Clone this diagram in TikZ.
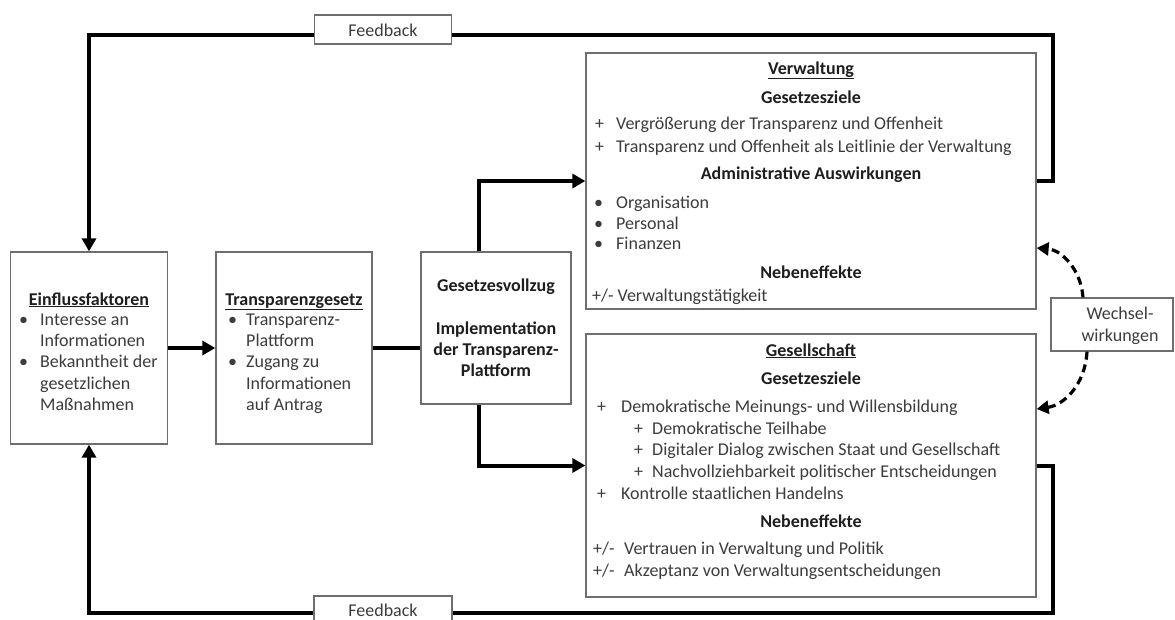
\documentclass[tikz,border=0pt]{standalone}
\usepackage{fontspec}
\setmainfont{Carlito}
\usetikzlibrary{arrows.meta}
\definecolor{boxgray}{HTML}{6E6E6E}
\definecolor{txtgray}{HTML}{3C3C3C}
\definecolor{headblk}{HTML}{1E1E1E}
\newcommand{\ulin}[1]{\underline{#1}}
\begin{document}
\begin{tikzpicture}[x=1pt,y=-1pt,
  box/.style={draw=boxgray, line width=1.3pt, fill=white, inner sep=0pt, rectangle},
  conn/.style={line width=4pt, black},
  arr/.style={conn, -{Triangle[length=13pt,width=14pt]}},
  dasharr/.style={line width=3.2pt, black, dash pattern=on 8pt off 5pt, -{Triangle[length=12pt,width=13pt]}},
  tl/.style={anchor=base west, inner sep=0pt, text=txtgray, font=\fontsize{18}{21}\selectfont},
  tc/.style={anchor=base, inner sep=0pt, text=txtgray, font=\fontsize{18}{21}\selectfont},
  hb/.style={anchor=base, inner sep=0pt, text=headblk, font=\fontsize{18}{21}\selectfont\bfseries},
]
\useasboundingbox (0,0) rectangle (1175,619);

% ---- boxes ----
\node[box, minimum width=156.5pt, minimum height=192pt] (einf) at (89,348) {};
\node[box, minimum width=156pt, minimum height=192pt] (trans) at (294,348) {};
\node[box, minimum width=150pt, minimum height=152pt] (vollz) at (496,328) {};
\node[box, minimum width=450pt, minimum height=256pt] (verw) at (811,181) {};
\node[box, minimum width=450pt, minimum height=263pt] (gesell) at (811,465.5) {};

% ---- helper coordinates ----
\coordinate (tr) at (1053,35);
\coordinate (br) at (1053,613);
\coordinate (vx) at (479,0);
\coordinate (w1) at (0,248);
\coordinate (w2) at (0,409);
\coordinate (d1) at (1083,0);
\coordinate (d2) at (1087,0);

% ---- connectors ----
\draw[arr] (verw.east) -| (tr) -| (einf.north);
\draw[arr] (gesell.east) -| (br) -| (einf.south);
\draw[arr] (einf.east) -- (trans.west);
\draw[conn] (trans.east) -- (trans.east -| vollz.west);
\draw[arr] (vollz.north -| vx) |- (verw.west);
\draw[arr] (vollz.south -| vx) |- (gesell.west);

% ---- label boxes ----
\node[box, minimum width=137pt, minimum height=29pt] (fbtop) at (383,29.5) {};
\node[box, minimum width=138pt, minimum height=29pt] (fbbot) at (383,610.5) {};
\node[box, minimum width=122pt, minimum height=53pt] (wech) at (1112,324.5) {};

\draw[dasharr] (wech.north -| d1) .. controls (1081,270) and (1062,250) .. (verw.east |- w1);
\draw[dasharr] (wech.south -| d2) .. controls (1085,385) and (1064,405) .. (gesell.east |- w2);

\node[tc] (fbtoptxt) at (383,36) {Feedback};
\node[tc] (fbbottxt) at (383,616) {Feedback};
\node[tc] (wech1) at (1120,319) {Wechsel-};
\node[tc] (wech2) at (1120,341) {wirkungen};

% ---- Einflussfaktoren ----
\node[hb] (e0) at (89,305) {\ulin{Einflussfaktoren}};
\node[tl] (eb1) at (19,325) {•};
\node[tl] (e1) at (40,325) {Interesse an};
\node[tl] (e2) at (40,346) {Informationen};
\node[tl] (eb2) at (19,367) {•};
\node[tl] (e3) at (40,367) {Bekanntheit der};
\node[tl] (e4) at (40,389) {gesetzlichen};
\node[tl] (e5) at (40,410) {Maßnahmen};

% ---- Transparenzgesetz ----
\node[hb] (t0) at (294,305) {\ulin{Transparenzgesetz}};
\node[tl] (tb1) at (228,325) {•};
\node[tl] (t1) at (246,325) {Transparenz-};
\node[tl] (t2) at (246,346) {Plattform};
\node[tl] (tb2) at (228,367) {•};
\node[tl] (t3) at (246,367) {Zugang zu};
\node[tl] (t4) at (246,389) {Informationen};
\node[tl] (t5) at (246,410) {auf Antrag};

% ---- Gesetzesvollzug ----
\node[hb] (g0) at (496,291) {Gesetzesvollzug};
\node[hb] (g1) at (496,334) {Implementation};
\node[hb] (g2) at (496,355) {der Transparenz-};
\node[hb] (g3) at (496,376) {Plattform};

% ---- Verwaltung ----
\node[hb] (v0) at (811,74) {\ulin{Verwaltung}};
\node[hb] (v1) at (811,103) {Gesetzesziele};
\node[tl] (vp1) at (595,129) {+};
\node[tl] (v2) at (616,129) {Vergrößerung der Transparenz und Offenheit};
\node[tl] (vp2) at (595,152) {+};
\node[tl] (v3) at (616,152) {Transparenz und Offenheit als Leitlinie der Verwaltung};
\node[hb] (v4) at (811,179) {Administrative Auswirkungen};
\node[tl] (vb1) at (594,208) {•};
\node[tl] (v5) at (616,208) {Organisation};
\node[tl] (vb2) at (594,229) {•};
\node[tl] (v6) at (616,229) {Personal};
\node[tl] (vb3) at (594,249) {•};
\node[tl] (v7) at (616,249) {Finanzen};
\node[hb] (v8) at (811,278) {Nebeneffekte};
\node[tl] (v9) at (592,301) {+/- Verwaltungstätigkeit};

% ---- Gesellschaft ----
\node[hb] (s0) at (811,356) {\ulin{Gesellschaft}};
\node[hb] (s1) at (811,384) {Gesetzesziele};
\node[tl] (sp1) at (597,412) {+};
\node[tl] (s2) at (621,412) {Demokratische Meinungs- und Willensbildung};
\node[tl] (sp2) at (634,434) {+};
\node[tl] (s3) at (652,434) {Demokratische Teilhabe};
\node[tl] (sp3) at (634,455) {+};
\node[tl] (s4) at (652,455) {Digitaler Dialog zwischen Staat und Gesellschaft};
\node[tl] (sp4) at (634,477) {+};
\node[tl] (s5) at (652,477) {Nachvollziehbarkeit politischer Entscheidungen};
\node[tl] (sp5) at (597,499) {+};
\node[tl] (s6) at (621,499) {Kontrolle staatlichen Handelns};
\node[hb] (s7) at (811,527) {Nebeneffekte};
\node[tl] (sq1) at (593,554) {+/-};
\node[tl] (s8) at (624,554) {Vertrauen in Verwaltung und Politik};
\node[tl] (sq2) at (593,576) {+/-};
\node[tl] (s9) at (624,576) {Akzeptanz von Verwaltungsentscheidungen};
\end{tikzpicture}
\end{document}
